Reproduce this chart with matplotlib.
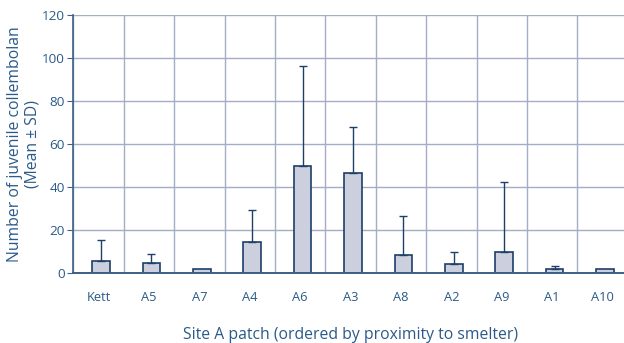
import matplotlib
matplotlib.use("Agg")
import matplotlib.pyplot as plt
import numpy as np

categories = ["Kett", "A5", "A7", "A4", "A6", "A3", "A8", "A2", "A9", "A1", "A10"]
means = [5.7, 4.6, 1.9, 14.4, 50.0, 46.4, 8.7, 4.3, 10.0, 1.9, 1.9]
sds = [9.9, 4.2, 0.0, 15.1, 46.3, 21.6, 17.8, 5.6, 32.6, 1.6, 0.0]
yticks = [0, 20, 40, 60, 80, 100, 120]

text_color = "#2b5a88"
edge_color = "#1d3f68"
fill_color = "#ccd0de"
grid_color = "#a3adc6"
spine_color = "#3f5f85"

plt.rcParams["font.family"] = ["Open Sans", "DejaVu Sans"]

fig = plt.figure(figsize=(6.24, 3.43), dpi=100)
ax = fig.add_axes([73.3 / 624, 1 - 273.3 / 343, (627.7 - 73.3) / 624, (273.3 - 15) / 343])

x = np.arange(len(categories))
bar_x = x + 0.05
ax.bar(bar_x, means, width=0.35, color=fill_color, edgecolor=edge_color, linewidth=1.2, zorder=3)
sd_arr = np.array(sds)
mask = sd_arr > 0
ax.errorbar(bar_x[mask], np.array(means)[mask],
            yerr=[np.zeros(mask.sum()), sd_arr[mask]],
            fmt="none", ecolor=edge_color, elinewidth=1.0, capsize=3.2, capthick=1.0, zorder=4)

ax.set_xlim(-0.5, len(categories) - 0.5)
ax.set_ylim(0, 120)
ax.set_yticks(yticks)
ax.set_xticks(x)
ax.set_xticklabels(categories)
ax.set_xticks(np.arange(len(categories) + 1) - 0.5, minor=True)

ax.grid(True, which="major", axis="y", color=grid_color, linewidth=1.0, zorder=0)
ax.grid(True, which="minor", axis="x", color=grid_color, linewidth=1.0, zorder=0)
ax.grid(False, which="major", axis="x")

for s in ["top", "right"]:
    ax.spines[s].set_visible(False)
ax.spines["left"].set_color(spine_color)
ax.spines["bottom"].set_color(spine_color)
ax.spines["left"].set_linewidth(1.2)
ax.spines["bottom"].set_linewidth(1.4)
ax.spines["bottom"].set_zorder(5)

ax.tick_params(axis="y", which="major", length=4, color=spine_color, labelsize=9.7, labelcolor=text_color, pad=2)
ax.tick_params(axis="x", which="major", length=0, labelsize=9.3, labelcolor=text_color, pad=13)
ax.tick_params(axis="x", which="minor", length=0)

ax.set_ylabel("Number of juvenile collembolan\n(Mean \u00b1 SD)", fontsize=11.3, color=text_color, linespacing=1.1, labelpad=1)
ax.set_xlabel("Site A patch (ordered by proximity to smelter)", fontsize=11.3, color=text_color, labelpad=16)

fig.savefig("out.png", dpi=100)
